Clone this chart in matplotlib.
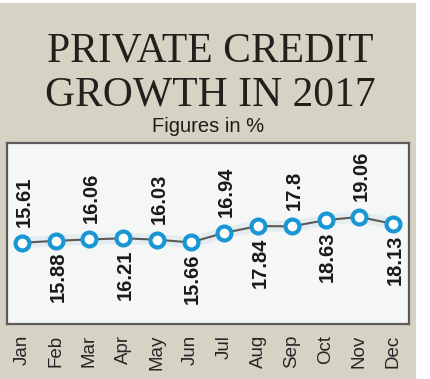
import matplotlib
matplotlib.use("Agg")
import matplotlib.pyplot as plt
from matplotlib import font_manager
from matplotlib.patches import Rectangle

months = ["Jan", "Feb", "Mar", "Apr", "May", "Jun",
          "Jul", "Aug", "Sep", "Oct", "Nov", "Dec"]
growth = [15.61, 15.88, 16.06, 16.21, 16.03, 15.66,
          16.94, 17.84, 17.8, 18.63, 19.06, 18.13]
value_labels = ["15.61", "15.88", "16.06", "16.21", "16.03", "15.66",
                "16.94", "17.84", "17.8", "18.63", "19.06", "18.13"]

title_lines = ["PRIVATE CREDIT", "GROWTH IN 2017"]
subtitle = "Figures in %"

names = {f.name for f in font_manager.fontManager.ttflist}
narrow = "Liberation Sans Narrow" if "Liberation Sans Narrow" in names else "Liberation Sans"

W, H = 430, 379
fig = plt.figure(figsize=(W / 100, H / 100), dpi=100)
fig.patch.set_facecolor("white")

# beige panel
fig.patches.append(Rectangle((0, 0), 416 / W, 376 / H, transform=fig.transFigure,
                             facecolor="#d7d3c4", edgecolor="none", zorder=-5))

fig.text(210 / W, 1 - 62 / H, title_lines[0], family="Liberation Serif",
         fontsize=30, color="#231f1c", ha="center", va="baseline")
fig.text(210 / W, 1 - 106 / H, title_lines[1], family="Liberation Serif",
         fontsize=30, color="#231f1c", ha="center", va="baseline")
fig.text(208 / W, 1 - 132 / H, subtitle, family=narrow,
         fontsize=14.5, color="#1e1b18", ha="center", va="baseline")

ax = fig.add_axes([7 / W, 1 - 324 / H, 402 / W, 181 / H])
ax.set_zorder(2)
ax.set_facecolor("#f5f6f6")
for s in ax.spines.values():
    s.set_color("#5c5c5c")
    s.set_linewidth(1.6)

x = list(range(len(months)))
ax.plot(x, growth, color="#d3e6ec", lw=8, alpha=0.5, solid_capstyle="round", zorder=1)
ax.plot(x, growth, color="#5a5a5a", lw=1.5, zorder=2)
ax.plot(x, growth, linestyle="none", marker="o", markersize=10,
        markerfacecolor="white", markeredgecolor="#1997d4", markeredgewidth=3, zorder=3)

for i, (v, lab) in enumerate(zip(growth, value_labels)):
    if i % 2 == 0:
        ax.annotate(lab, (i, v), xytext=(1.5, 11.5), textcoords="offset points",
                    rotation=90, ha="center", va="bottom", fontsize=14.5,
                    fontweight="bold", family="Liberation Sans", color="#1a1a1a")
    else:
        ax.annotate(lab, (i, v), xytext=(1.5, -8), textcoords="offset points",
                    rotation=90, ha="center", va="top", fontsize=14.5,
                    fontweight="bold", family="Liberation Sans", color="#1a1a1a")

ax.set_xlim(-0.445, 11.475)
ax.set_ylim(4.8, 28.9)
ax.set_yticks([])
ax.set_xticks(x)
ax.set_xticklabels(months, rotation=90, family=narrow, fontsize=13.5, color="#262626")
ax.tick_params(axis="x", length=0, pad=8)

fig.savefig("out.png", dpi=100, facecolor=fig.get_facecolor())
